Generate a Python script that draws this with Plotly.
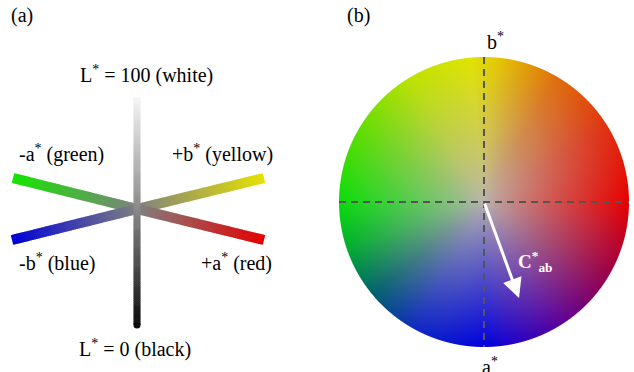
import numpy as np
import plotly.graph_objects as go

W, H = 634, 372

# ---------------- panel (a): CIELAB axes diagram ----------------
center_a = (137, 209)
arm_end_x = [13, 264, 12, 264]          # green, yellow, blue, red arm ends
arm_end_y = [178, 178, 240, 240]
arm_end_colors = [(20, 228, 0), (228, 226, 0), (0, 0, 215), (228, 0, 0)]
center_gray = (128, 128, 128)
arm_width = 10

L_top_y, L_bottom_y = 97, 325
L_colors = [(246, 246, 246), (135, 135, 135), (12, 12, 12)]   # top, middle, bottom
L_width = 7

labels_a = ["L<sup>*</sup> = 100 (white)", "-a<sup>*</sup> (green)", "+b<sup>*</sup> (yellow)",
            "-b<sup>*</sup> (blue)", "+a<sup>*</sup> (red)", "L<sup>*</sup> = 0 (black)"]
labels_a_x = [146, 61, 222, 57, 236, 135]
labels_a_y = [74, 153, 153, 262, 262, 348]

# ---------------- panel (b): a*b* colour disk ----------------
disk_cx, disk_cy, disk_r = 484, 202, 145
hue_angles = [0, 30, 60, 85, 95, 120, 150, 180, 198, 220, 242, 270, 300, 330, 360]
hue_colors = [(230, 0, 0), (224, 45, 15), (224, 110, 10), (228, 200, 0), (224, 228, 0),
              (190, 226, 0), (95, 222, 0), (10, 220, 10), (0, 175, 45), (0, 95, 110),
              (15, 40, 195), (0, 0, 222), (85, 0, 160), (155, 0, 70), (230, 0, 0)]
disk_center_color = (186, 180, 174)
chroma_tip = (519, 298)

fig = go.Figure()
shapes = []


def lerp(c1, c2, t):
    return tuple(c1[i] + (c2[i] - c1[i]) * t for i in range(3))


def rgb(c):
    return "rgb(%d,%d,%d)" % tuple(int(round(v)) for v in c)


# arms
N = 60
for ex, ey, ec in zip(arm_end_x, arm_end_y, arm_end_colors):
    for k in range(N):
        t0 = k / N
        t1 = min(1.0, (k + 1.3) / N)
        tm = (k + 0.5) / N
        x0 = center_a[0] + (ex - center_a[0]) * t0
        y0 = center_a[1] + (ey - center_a[1]) * t0
        x1 = center_a[0] + (ex - center_a[0]) * t1
        y1 = center_a[1] + (ey - center_a[1]) * t1
        shapes.append(dict(type="line", xref="x", yref="y", x0=x0, y0=y0, x1=x1, y1=y1,
                           line=dict(color=rgb(lerp(center_gray, ec, tm)), width=arm_width),
                           layer="above"))

# L* bar
NL = 120
for k in range(NL):
    t0 = k / NL
    t1 = min(1.0, (k + 1.3) / NL)
    tm = (k + 0.5) / NL
    if tm < 0.5:
        c = lerp(L_colors[0], L_colors[1], tm / 0.5)
    else:
        c = lerp(L_colors[1], L_colors[2], (tm - 0.5) / 0.5)
    y0 = L_top_y + (L_bottom_y - L_top_y) * t0
    y1 = L_top_y + (L_bottom_y - L_top_y) * t1
    shapes.append(dict(type="line", xref="x", yref="y", x0=center_a[0], x1=center_a[0],
                       y0=y0, y1=y1, line=dict(color=rgb(c), width=L_width), layer="above"))

# rounded bottom cap
fig.add_trace(go.Scatter(x=[center_a[0]], y=[L_bottom_y], mode="markers",
                         marker=dict(size=L_width, color=rgb(L_colors[2]), line=dict(width=0)),
                         hoverinfo="skip", showlegend=False))

# colour disk image
n = 2 * disk_r + 2
left = disk_cx - disk_r - 1
top = disk_cy - disk_r - 1
jj, ii = np.meshgrid(np.arange(n), np.arange(n))
px = left + 0.5 + jj
py = top + 0.5 + ii
dx = px - disk_cx
dy = -(py - disk_cy)
r = np.hypot(dx, dy)
ang = np.degrees(np.arctan2(dy, dx)) % 360
hc = np.array(hue_colors, dtype=float)
edge = np.stack([np.interp(ang, hue_angles, hc[:, c]) for c in range(3)], axis=-1)
t = np.clip(r / disk_r, 0, 1) ** 0.85
cc = np.array(disk_center_color, dtype=float)
col = cc * (1 - t[..., None]) + edge * t[..., None]
alpha = np.clip(disk_r + 0.5 - r, 0, 1)
z = np.dstack([np.round(col), np.round(alpha, 2)])
fig.add_trace(go.Image(z=z.tolist(), colormodel="rgba", x0=left + 0.5, y0=top + 0.5,
                       dx=1, dy=1, hoverinfo="skip"))

# dashed axes
shapes.append(dict(type="line", xref="x", yref="y", x0=disk_cx - disk_r, x1=disk_cx + disk_r,
                   y0=disk_cy, y1=disk_cy, line=dict(color="#555555", width=2, dash="7px,5px"),
                   layer="above"))
shapes.append(dict(type="line", xref="x", yref="y", x0=disk_cx, x1=disk_cx,
                   y0=disk_cy - disk_r, y1=disk_cy + disk_r,
                   line=dict(color="#555555", width=2, dash="7px,5px"), layer="above"))

serif = "Times New Roman, Liberation Serif, DejaVu Serif, serif"
ann = []
for txt, x, y in zip(labels_a, labels_a_x, labels_a_y):
    ann.append(dict(text=txt, x=x, y=y, xref="x", yref="y", showarrow=False,
                    xanchor="center", yanchor="middle",
                    font=dict(family=serif, size=20, color="black")))
ann.append(dict(text="(a)", x=22, y=15, xref="x", yref="y", showarrow=False,
                font=dict(family=serif, size=20, color="black")))
ann.append(dict(text="(b)", x=358, y=15, xref="x", yref="y", showarrow=False,
                font=dict(family=serif, size=20, color="black")))
ann.append(dict(text="b<sup>*</sup>", x=495, y=41, xref="x", yref="y", showarrow=False,
                font=dict(family=serif, size=20, color="black")))
ann.append(dict(text="a<sup>*</sup>", x=490, y=366, xref="x", yref="y", showarrow=False,
                font=dict(family=serif, size=20, color="black")))
# chroma arrow
ann.append(dict(text="", x=chroma_tip[0], y=chroma_tip[1], ax=disk_cx, ay=disk_cy,
                xref="x", yref="y", axref="x", ayref="y", showarrow=True,
                arrowhead=2, arrowsize=1.3, arrowwidth=3, arrowcolor="white", standoff=0,
                startstandoff=0))
ann.append(dict(text="<b>C<sup>*</sup><sub>ab</sub></b>", x=535, y=261, xref="x", yref="y",
                showarrow=False, font=dict(family=serif, size=19, color="white")))

fig.update_layout(
    width=W, height=H, autosize=False,
    margin=dict(l=0, r=0, t=0, b=0),
    paper_bgcolor="white", plot_bgcolor="white",
    font=dict(family=serif),
    xaxis=dict(range=[0, W], visible=False, fixedrange=True),
    yaxis=dict(range=[H, 0], visible=False, fixedrange=True, autorange=False),
    shapes=shapes, annotations=ann, showlegend=False,
)
fig.write_html("out.html")
